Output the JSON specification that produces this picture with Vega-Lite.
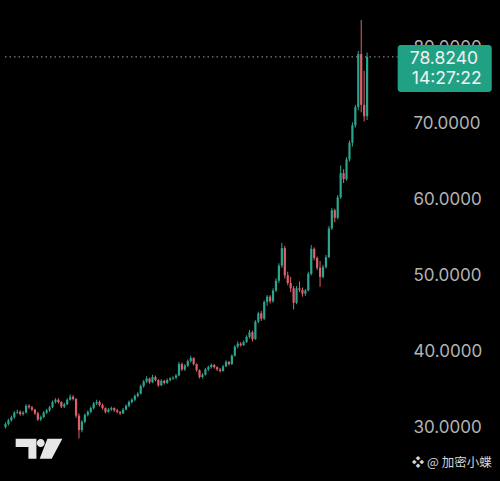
{
  "$schema": "https://vega.github.io/schema/vega-lite/v6.json",
  "width": 500,
  "height": 481,
  "autosize": {"type": "none"},
  "padding": 0,
  "background": "#000000",
  "config": {"view": {"stroke": null}, "axis": {"grid": false}},
  "datasets": {
    "candles": [
      {"i":0,"o":30.0,"h":30.6,"l":29.8,"c":30.4},
      {"i":1,"o":30.4,"h":31.1,"l":30.2,"c":30.9},
      {"i":2,"o":30.9,"h":31.5,"l":30.7,"c":31.3},
      {"i":3,"o":31.3,"h":32.1,"l":31.1,"c":31.9},
      {"i":4,"o":31.9,"h":32.3,"l":31.7,"c":32.0},
      {"i":5,"o":32.0,"h":32.2,"l":31.5,"c":31.7},
      {"i":6,"o":31.7,"h":32.1,"l":31.5,"c":31.9},
      {"i":7,"o":31.9,"h":33.0,"l":31.8,"c":32.8},
      {"i":8,"o":32.8,"h":33.0,"l":32.4,"c":32.6},
      {"i":9,"o":32.6,"h":32.8,"l":32.1,"c":32.3},
      {"i":10,"o":32.3,"h":32.4,"l":31.6,"c":31.8},
      {"i":11,"o":31.8,"h":32.0,"l":30.8,"c":31.0},
      {"i":12,"o":31.0,"h":31.5,"l":30.8,"c":31.3},
      {"i":13,"o":31.3,"h":32.1,"l":31.2,"c":31.9},
      {"i":14,"o":31.9,"h":32.4,"l":31.7,"c":32.2},
      {"i":15,"o":32.2,"h":32.8,"l":32.0,"c":32.6},
      {"i":16,"o":32.6,"h":33.5,"l":32.5,"c":33.3},
      {"i":17,"o":33.3,"h":33.8,"l":33.1,"c":33.6},
      {"i":18,"o":33.6,"h":33.8,"l":33.1,"c":33.3},
      {"i":19,"o":33.3,"h":33.4,"l":32.5,"c":32.7},
      {"i":20,"o":32.7,"h":33.2,"l":32.5,"c":33.0},
      {"i":21,"o":33.0,"h":33.8,"l":32.9,"c":33.6},
      {"i":22,"o":33.6,"h":34.3,"l":33.5,"c":34.0},
      {"i":23,"o":34.0,"h":34.2,"l":33.5,"c":33.7},
      {"i":24,"o":33.7,"h":33.8,"l":31.2,"c":31.5},
      {"i":25,"o":31.5,"h":31.8,"l":28.5,"c":29.6},
      {"i":26,"o":29.6,"h":30.9,"l":29.3,"c":30.7},
      {"i":27,"o":30.7,"h":31.8,"l":30.5,"c":31.6},
      {"i":28,"o":31.6,"h":32.2,"l":31.4,"c":32.0},
      {"i":29,"o":32.0,"h":32.7,"l":31.8,"c":32.5},
      {"i":30,"o":32.5,"h":33.3,"l":32.3,"c":33.1},
      {"i":31,"o":33.1,"h":33.6,"l":32.9,"c":33.3},
      {"i":32,"o":33.3,"h":33.5,"l":32.7,"c":32.9},
      {"i":33,"o":32.9,"h":33.1,"l":32.3,"c":32.5},
      {"i":34,"o":32.5,"h":32.6,"l":31.8,"c":32.0},
      {"i":35,"o":32.0,"h":32.5,"l":31.9,"c":32.3},
      {"i":36,"o":32.3,"h":32.7,"l":32.1,"c":32.5},
      {"i":37,"o":32.5,"h":32.6,"l":32.0,"c":32.2},
      {"i":38,"o":32.2,"h":32.4,"l":31.8,"c":32.0},
      {"i":39,"o":32.0,"h":32.1,"l":31.6,"c":31.8},
      {"i":40,"o":31.8,"h":32.5,"l":31.7,"c":32.3},
      {"i":41,"o":32.3,"h":33.0,"l":32.2,"c":32.8},
      {"i":42,"o":32.8,"h":33.5,"l":32.6,"c":33.3},
      {"i":43,"o":33.3,"h":33.8,"l":33.1,"c":33.6},
      {"i":44,"o":33.6,"h":34.3,"l":33.4,"c":34.1},
      {"i":45,"o":34.1,"h":34.6,"l":33.9,"c":34.4},
      {"i":46,"o":34.4,"h":35.6,"l":34.3,"c":35.4},
      {"i":47,"o":35.4,"h":36.2,"l":35.2,"c":36.0},
      {"i":48,"o":36.0,"h":36.7,"l":35.8,"c":36.4},
      {"i":49,"o":36.4,"h":36.5,"l":35.7,"c":35.9},
      {"i":50,"o":35.9,"h":36.9,"l":35.8,"c":36.6},
      {"i":51,"o":36.6,"h":36.8,"l":36.0,"c":36.2},
      {"i":52,"o":36.2,"h":36.3,"l":35.3,"c":35.5},
      {"i":53,"o":35.5,"h":36.3,"l":35.4,"c":36.1},
      {"i":54,"o":36.1,"h":36.2,"l":35.6,"c":35.8},
      {"i":55,"o":35.8,"h":36.4,"l":35.7,"c":36.2},
      {"i":56,"o":36.2,"h":36.6,"l":36.0,"c":36.4},
      {"i":57,"o":36.4,"h":36.7,"l":36.2,"c":36.5},
      {"i":58,"o":36.5,"h":37.0,"l":36.3,"c":36.8},
      {"i":59,"o":36.8,"h":38.6,"l":36.7,"c":38.3},
      {"i":60,"o":38.3,"h":38.5,"l":37.4,"c":37.6},
      {"i":61,"o":37.6,"h":38.3,"l":37.4,"c":38.1},
      {"i":62,"o":38.1,"h":38.9,"l":37.9,"c":38.7},
      {"i":63,"o":38.7,"h":39.4,"l":38.5,"c":39.1},
      {"i":64,"o":39.1,"h":39.2,"l":38.1,"c":38.3},
      {"i":65,"o":38.3,"h":38.4,"l":37.3,"c":37.5},
      {"i":66,"o":37.5,"h":37.6,"l":36.4,"c":36.6},
      {"i":67,"o":36.6,"h":37.1,"l":36.4,"c":36.9},
      {"i":68,"o":36.9,"h":37.8,"l":36.8,"c":37.6},
      {"i":69,"o":37.6,"h":38.1,"l":37.4,"c":37.9},
      {"i":70,"o":37.9,"h":38.4,"l":37.7,"c":38.2},
      {"i":71,"o":38.2,"h":38.3,"l":37.7,"c":37.9},
      {"i":72,"o":37.9,"h":38.0,"l":37.4,"c":37.6},
      {"i":73,"o":37.6,"h":37.8,"l":37.2,"c":37.4},
      {"i":74,"o":37.4,"h":38.2,"l":37.3,"c":38.0},
      {"i":75,"o":38.0,"h":38.8,"l":37.9,"c":38.6},
      {"i":76,"o":38.6,"h":38.7,"l":38.1,"c":38.3},
      {"i":77,"o":38.3,"h":39.6,"l":38.2,"c":39.4},
      {"i":78,"o":39.4,"h":40.8,"l":39.3,"c":40.6},
      {"i":79,"o":40.6,"h":41.3,"l":40.4,"c":41.0},
      {"i":80,"o":41.0,"h":41.2,"l":40.6,"c":40.8},
      {"i":81,"o":40.8,"h":41.4,"l":40.7,"c":41.2},
      {"i":82,"o":41.2,"h":42.1,"l":41.1,"c":41.9},
      {"i":83,"o":41.9,"h":42.8,"l":41.7,"c":42.5},
      {"i":84,"o":42.5,"h":42.7,"l":41.3,"c":41.6},
      {"i":85,"o":41.6,"h":44.1,"l":41.5,"c":43.9},
      {"i":86,"o":43.9,"h":45.2,"l":43.7,"c":45.0},
      {"i":87,"o":45.0,"h":45.3,"l":44.0,"c":44.3},
      {"i":88,"o":44.3,"h":46.7,"l":44.1,"c":46.5},
      {"i":89,"o":46.5,"h":47.4,"l":46.0,"c":47.2},
      {"i":90,"o":47.2,"h":47.4,"l":46.3,"c":46.6},
      {"i":91,"o":46.6,"h":48.3,"l":46.4,"c":48.0},
      {"i":92,"o":48.0,"h":49.6,"l":47.8,"c":49.3},
      {"i":93,"o":49.3,"h":51.6,"l":49.0,"c":51.3},
      {"i":94,"o":51.3,"h":54.3,"l":51.0,"c":53.6},
      {"i":95,"o":53.6,"h":53.9,"l":49.6,"c":50.0},
      {"i":96,"o":50.0,"h":50.5,"l":48.7,"c":49.0},
      {"i":97,"o":49.0,"h":49.8,"l":47.8,"c":48.3},
      {"i":98,"o":48.3,"h":48.6,"l":45.5,"c":46.4},
      {"i":99,"o":46.4,"h":48.6,"l":46.2,"c":48.3},
      {"i":100,"o":48.3,"h":49.2,"l":47.8,"c":48.1},
      {"i":101,"o":48.1,"h":48.4,"l":47.2,"c":47.6},
      {"i":102,"o":47.6,"h":48.2,"l":47.3,"c":48.0},
      {"i":103,"o":48.0,"h":50.5,"l":47.9,"c":50.2},
      {"i":104,"o":50.2,"h":54.0,"l":50.0,"c":53.5},
      {"i":105,"o":53.5,"h":53.7,"l":52.0,"c":52.3},
      {"i":106,"o":52.3,"h":52.5,"l":50.7,"c":51.0},
      {"i":107,"o":51.0,"h":51.9,"l":48.5,"c":49.8},
      {"i":108,"o":49.8,"h":51.4,"l":49.6,"c":51.1},
      {"i":109,"o":51.1,"h":52.7,"l":50.9,"c":52.4},
      {"i":110,"o":52.4,"h":56.5,"l":52.3,"c":56.2},
      {"i":111,"o":56.2,"h":58.9,"l":56.0,"c":58.6},
      {"i":112,"o":58.6,"h":58.8,"l":57.0,"c":57.6},
      {"i":113,"o":57.6,"h":60.6,"l":57.4,"c":60.3},
      {"i":114,"o":60.3,"h":64.5,"l":60.1,"c":63.5},
      {"i":115,"o":63.5,"h":64.0,"l":62.2,"c":62.7},
      {"i":116,"o":62.7,"h":65.6,"l":62.5,"c":65.3},
      {"i":117,"o":65.3,"h":67.8,"l":65.0,"c":67.5},
      {"i":118,"o":67.5,"h":70.2,"l":67.0,"c":69.8},
      {"i":119,"o":69.8,"h":72.5,"l":69.5,"c":72.2},
      {"i":120,"o":72.2,"h":79.6,"l":71.8,"c":79.2},
      {"i":121,"o":79.2,"h":83.7,"l":71.5,"c":72.5},
      {"i":122,"o":72.5,"h":77.0,"l":70.3,"c":71.0},
      {"i":123,"o":71.0,"h":79.4,"l":70.5,"c":78.824}
    ]
  },
  "layer": [
    {
      "data": {"name": "candles"},
      "mark": {"type": "rule", "strokeWidth": 1},
      "encoding": {
        "x": {"field": "i", "type": "quantitative", "scale": {"domain": [-0.167, 166.5], "nice": false, "zero": false}, "axis": null},
        "y": {"field": "l", "type": "quantitative", "scale": {"domain": [22.88, 86.33], "nice": false, "zero": false},
          "axis": {"orient": "right", "offset": -87, "title": null, "values": [30, 40, 50, 60, 70, 80], "format": ".4f",
            "domain": false, "ticks": false, "labelPadding": 0, "labelAlign": "left", "labelBaseline": "middle",
            "labelFont": "Inter", "labelFontSize": 17, "labelColor": "#b3b3b3", "labelFlush": false, "labelOverlap": false}},
        "y2": {"field": "h"},
        "color": {"condition": {"test": "datum.c >= datum.o", "value": "#2aa58f"}, "value": "#e0606a"}
      }
    },
    {
      "data": {"name": "candles"},
      "mark": {"type": "bar", "size": 2.2},
      "encoding": {
        "x": {"field": "i", "type": "quantitative"},
        "y": {"field": "o", "type": "quantitative"},
        "y2": {"field": "c"},
        "color": {"condition": {"test": "datum.c >= datum.o", "value": "#2aa58f"}, "value": "#e0606a"}
      }
    },
    {
      "data": {"values": [{"x1": -0.167, "x2": 133.4, "p": 78.824}]},
      "mark": {"type": "rule", "strokeDash": [1.5, 3], "strokeWidth": 1, "color": "#a0a0a0"},
      "encoding": {
        "x": {"field": "x1", "type": "quantitative"},
        "x2": {"field": "x2"},
        "y": {"field": "p", "type": "quantitative"}
      }
    },
    {
      "data": {"values": [{"x1": 133.4, "x2": 165.4, "y1": 80.39, "y2": 74.19}]},
      "mark": {"type": "rect", "color": "#21a184", "cornerRadius": 3},
      "encoding": {
        "x": {"field": "x1", "type": "quantitative"},
        "x2": {"field": "x2"},
        "y": {"field": "y1", "type": "quantitative"},
        "y2": {"field": "y2"}
      }
    },
    {
      "data": {"values": [
        {"x": 137.5, "y": 78.61, "t": "78.8240"},
        {"x": 138.2, "y": 75.91, "t": "14:27:22"}
      ]},
      "mark": {"type": "text", "align": "left", "baseline": "middle", "font": "Inter", "fontSize": 17.5, "color": "#f2f2f2"},
      "encoding": {
        "x": {"field": "x", "type": "quantitative"},
        "y": {"field": "y", "type": "quantitative"},
        "text": {"field": "t"}
      }
    },
    {
      "data": {"values": [{"x": 138.2, "y": 25.31, "t": "❖ @ 加密小蝶"}]},
      "mark": {"type": "text", "align": "left", "baseline": "middle", "font": "Noto Sans CJK SC", "fontSize": 12.5, "color": "#d6d6d6"},
      "encoding": {
        "x": {"field": "x", "type": "quantitative"},
        "y": {"field": "y", "type": "quantitative"},
        "text": {"field": "t"}
      }
    },
    {
      "data": {"values": [{"x": 11.4, "y": 27.14}]},
      "mark": {"type": "point", "filled": true, "opacity": 1, "color": "#e6e6e6", "strokeWidth": 0, "size": 2180,
        "shape": "M-1,-0.428L-0.111,-0.428L-0.111,0.428L-0.454,0.428L-0.454,-0.073L-1,-0.073Z M0.36,-0.428L1,-0.428L0.544,0.428L0.03,0.428Z M-0.097,-0.244A0.17,0.17 0 1,0 0.243,-0.244A0.17,0.17 0 1,0 -0.097,-0.244Z"},
      "encoding": {
        "x": {"field": "x", "type": "quantitative"},
        "y": {"field": "y", "type": "quantitative"}
      }
    }
  ]
}
